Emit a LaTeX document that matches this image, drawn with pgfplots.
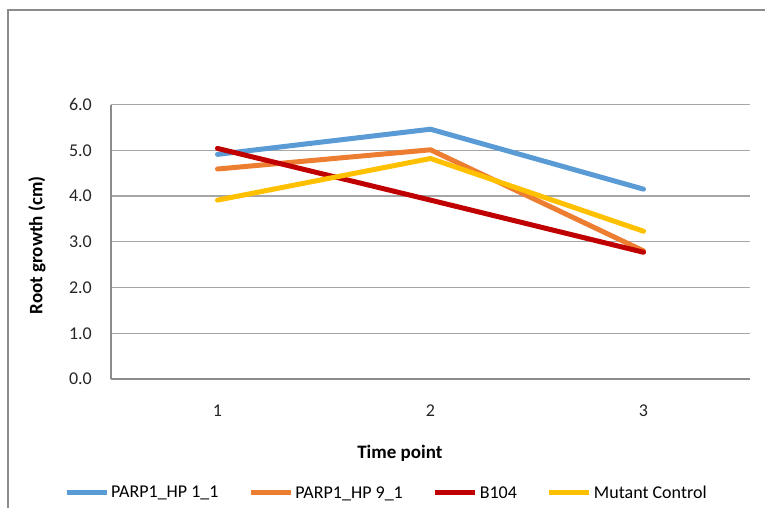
\documentclass[border=0pt]{standalone}
\usepackage{pgfplots}
\pgfplotsset{compat=1.18}
\usepackage{fontspec}
\setmainfont{Carlito}

\definecolor{sBlue}{HTML}{5B9BD5}
\definecolor{sOrange}{HTML}{ED7D31}
\definecolor{sRed}{HTML}{C00000}
\definecolor{sYellow}{HTML}{FFC000}
\definecolor{axisGray}{HTML}{8C8C8C}
\definecolor{gridGray}{HTML}{A6A6A6}

\begin{document}
\begin{tikzpicture}
  % page size, measured from the lower left corner of the plot area
  \useasboundingbox (-111pt,-129pt) rectangle (654pt,379pt);
  \draw[axisGray, line width=1.5pt] (-103pt,-129pt) -- (-103pt,369pt) -- (654pt,369pt);

  \begin{axis}[
    at={(0pt,0pt)}, anchor=south west,
    scale only axis, width=639pt, height=274.5pt,
    xmin=0.5, xmax=3.5, ymin=0, ymax=6,
    xtick={1,2,3}, ytick={0,1,...,6},
    major tick length=0pt,
    axis line style={axisGray, line width=1.3pt},
    axis x line*=bottom, axis y line*=left,
    ymajorgrids, major grid style={gridGray, line width=1.1pt},
    yticklabel={\pgfmathprintnumber[fixed,fixed zerofill,precision=1]{\tick}},
    tick label style={font=\fontsize{18}{21}\selectfont, inner sep=0pt, text=black!85},
    /pgf/number format/assume math mode=true,
    yticklabel shift=19pt, xticklabel shift=26pt,
    xlabel={Time point}, ylabel={Root growth (cm)},
    label style={font=\bfseries\fontsize{19}{22}\selectfont},
    xlabel style={at={(axis description cs:0.452,-0.269)}, anchor=center},
    ylabel style={at={(axis description cs:-0.116,0.487)}, anchor=center},
    every axis plot/.append style={line width=5pt, line cap=round, line join=round},
    legend columns=4,
    legend style={at={(axis description cs:0.431,-0.415)}, anchor=center,
      draw=none, fill=none, font=\fontsize{18}{21}\selectfont,
      inner sep=0pt,
      /tikz/every even column/.append style={column sep=28pt}},
    legend image code/.code={\draw[#1, line cap=butt] (0pt,0pt) -- (40pt,0pt);},
  ]
    \addplot[sBlue] coordinates {(1,4.91) (2,5.46) (3,4.15)};
    \addlegendentry{PARP1\_HP 1\_1}
    \addplot[sOrange] coordinates {(1,4.59) (2,5.01) (3,2.80)};
    \addlegendentry{PARP1\_HP 9\_1}
    \addplot[sRed] coordinates {(1,5.04) (2,3.91) (3,2.77)};
    \addlegendentry{B104}
    \addplot[sYellow] coordinates {(1,3.91) (2,4.82) (3,3.23)};
    \addlegendentry{Mutant Control}
  \end{axis}
\end{tikzpicture}
\end{document}
